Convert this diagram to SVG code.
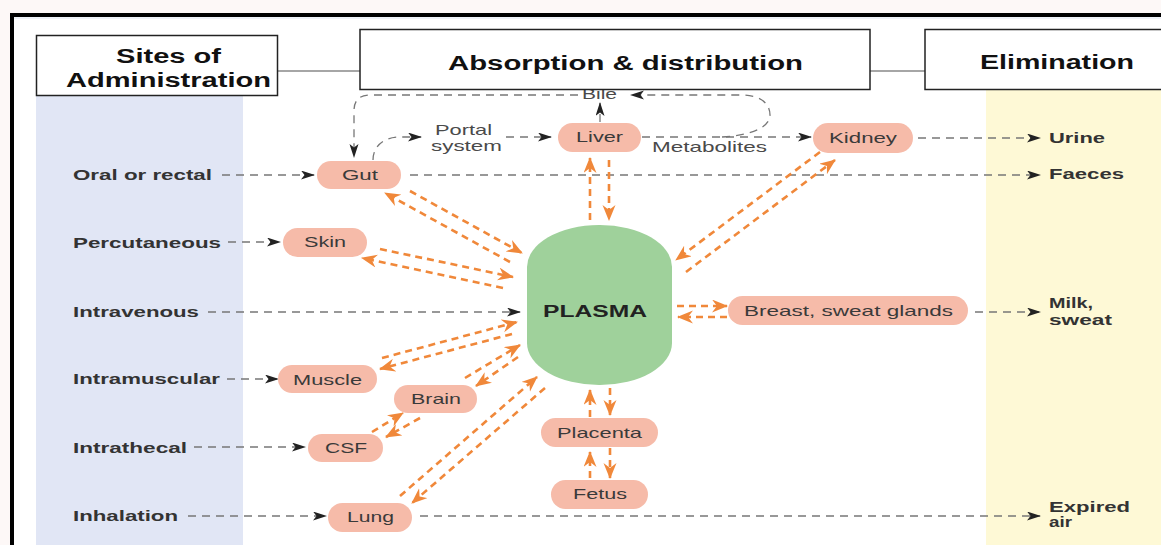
<svg xmlns="http://www.w3.org/2000/svg" width="1161" height="545" viewBox="0 0 1161 545">
<defs>
<marker id="ga" markerUnits="userSpaceOnUse" markerWidth="16" markerHeight="10" refX="13" refY="4.5" orient="auto"><path d="M0,0 L14,4.5 L0,9 L3.5,4.5 z" fill="#222"/></marker>
<marker id="oa" markerUnits="userSpaceOnUse" markerWidth="18" markerHeight="14" refX="15" refY="6.5" orient="auto"><path d="M0,0 L16,6.5 L0,13 L5,6.5 z" fill="#f0883a"/></marker>
</defs>
<style>
.hdr{fill:#fff;stroke:#222;stroke-width:1.5}
.ht{font-family:"Liberation Sans",Arial,sans-serif;font-weight:bold;font-size:20px;fill:#111}
.lt{font-family:"Liberation Sans",Arial,sans-serif;font-weight:bold;font-size:15px;fill:#333}
.nt{font-family:"Liberation Sans",Arial,sans-serif;font-size:15px;fill:#3a3a3a}
.gt{font-family:"Liberation Sans",Arial,sans-serif;font-size:15px;fill:#4a4a4a}
.node{fill:#f6bba9}
.gd{fill:none;stroke:#777;stroke-width:1.3;stroke-dasharray:8 6}
.od{fill:none;stroke:#f0883a;stroke-width:2.6;stroke-dasharray:7 5}
</style>
<rect x="0" y="0" width="1161" height="545" fill="#fdf8f7"/>
<rect x="12" y="15" width="1149" height="530" fill="#fff"/>
<rect x="36" y="96" width="207" height="449" fill="#e1e6f5"/>
<rect x="986" y="89" width="175" height="456" fill="#fef9d6"/>
<line x1="10" y1="15" x2="1161" y2="15" stroke="#000" stroke-width="4"/>
<line x1="12" y1="13" x2="12" y2="545" stroke="#000" stroke-width="4"/>
<line x1="14" y1="18" x2="1161" y2="18" stroke="#dde4f0" stroke-width="1"/>

<text class="gt" x="582" y="99" textLength="35" lengthAdjust="spacingAndGlyphs">Bile</text>

<g id="headers">
<line x1="278" y1="71" x2="360" y2="71" stroke="#888" stroke-width="1.5"/>
<line x1="870" y1="71" x2="925" y2="71" stroke="#888" stroke-width="1.5"/>
<g id="hdr-sites"><rect class="hdr" x="36.5" y="35.5" width="241" height="60"/>
<text class="ht" x="116" y="63" textLength="105" lengthAdjust="spacingAndGlyphs">Sites of</text>
<text class="ht" x="66" y="87" textLength="205" lengthAdjust="spacingAndGlyphs">Administration</text></g>
<g id="hdr-abs"><rect class="hdr" x="360" y="29.5" width="510" height="60"/>
<text class="ht" x="448" y="70" textLength="355" lengthAdjust="spacingAndGlyphs">Absorption &amp; distribution</text></g>
<g id="hdr-elim"><rect class="hdr" x="925" y="29.5" width="240" height="60"/>
<text class="ht" x="980" y="69" textLength="154" lengthAdjust="spacingAndGlyphs">Elimination</text></g>
</g>

<g id="connectors">
<line class="gd" x1="222" y1="175" x2="314" y2="175" marker-end="url(#ga)"/>
<line class="gd" x1="228" y1="242" x2="280" y2="242" marker-end="url(#ga)"/>
<line class="gd" x1="208" y1="312" x2="520" y2="312" marker-end="url(#ga)"/>
<line class="gd" x1="227" y1="379" x2="278" y2="379" marker-end="url(#ga)"/>
<line class="gd" x1="194" y1="447" x2="305" y2="447" marker-end="url(#ga)"/>
<line class="gd" x1="188" y1="516" x2="326" y2="516" marker-end="url(#ga)"/>
<line class="gd" x1="918" y1="138" x2="1040" y2="138" marker-end="url(#ga)"/>
<line class="gd" x1="410" y1="175" x2="1040" y2="175" marker-end="url(#ga)"/>
<line class="gd" x1="975" y1="312" x2="1040" y2="312" marker-end="url(#ga)"/>
<line class="gd" x1="420" y1="516" x2="1040" y2="516" marker-end="url(#ga)"/>
<path class="gd" d="M373 160 C373 146 384 137 400 137 L421 137" marker-end="url(#ga)"/>
<line class="gd" x1="506" y1="137" x2="551" y2="137" marker-end="url(#ga)"/>
<line class="gd" x1="642" y1="137" x2="811" y2="137" marker-end="url(#ga)"/>
<line class="gd" x1="600" y1="122" x2="600" y2="103" marker-end="url(#ga)"/>
<path class="gd" d="M722 137 C755 135 770 126 770 115 C770 102 758 95 742 95 L631 95" marker-end="url(#ga)"/>
<path class="gd" d="M578 95 L370 95 Q354 95 354 111 L354 157" marker-end="url(#ga)"/>
<line class="od" x1="410" y1="191" x2="522" y2="253" marker-end="url(#oa)"/>
<line class="od" x1="510" y1="262" x2="385" y2="193" marker-end="url(#oa)"/>
<line class="od" x1="380" y1="249" x2="513" y2="277" marker-end="url(#oa)"/>
<line class="od" x1="503" y1="288" x2="362" y2="258" marker-end="url(#oa)"/>
<line class="od" x1="590" y1="220" x2="590" y2="158" marker-end="url(#oa)"/>
<line class="od" x1="609" y1="160" x2="609" y2="220" marker-end="url(#oa)"/>
<line class="od" x1="820" y1="152" x2="676" y2="260" marker-end="url(#oa)"/>
<line class="od" x1="686" y1="272" x2="835" y2="160" marker-end="url(#oa)"/>
<line class="od" x1="677" y1="306" x2="727" y2="306" marker-end="url(#oa)"/>
<line class="od" x1="727" y1="317" x2="678" y2="317" marker-end="url(#oa)"/>
<line class="od" x1="382" y1="358" x2="517" y2="322" marker-end="url(#oa)"/>
<line class="od" x1="512" y1="334" x2="380" y2="369" marker-end="url(#oa)"/>
<line class="od" x1="465" y1="378" x2="520" y2="345" marker-end="url(#oa)"/>
<line class="od" x1="518" y1="357" x2="476" y2="386" marker-end="url(#oa)"/>
<line class="od" x1="372" y1="432" x2="403" y2="413" marker-end="url(#oa)"/>
<line class="od" x1="420" y1="418" x2="386" y2="437" marker-end="url(#oa)"/>
<line class="od" x1="400" y1="496" x2="537" y2="377" marker-end="url(#oa)"/>
<line class="od" x1="545" y1="388" x2="412" y2="503" marker-end="url(#oa)"/>
<line class="od" x1="590" y1="417" x2="590" y2="390" marker-end="url(#oa)"/>
<line class="od" x1="610" y1="388" x2="610" y2="415" marker-end="url(#oa)"/>
<line class="od" x1="590" y1="478" x2="590" y2="452" marker-end="url(#oa)"/>
<line class="od" x1="610" y1="448" x2="610" y2="478" marker-end="url(#oa)"/>
</g>

<g id="labels-left">
<text class="lt" x="73" y="180" textLength="139" lengthAdjust="spacingAndGlyphs">Oral or rectal</text>
<text class="lt" x="73" y="248" textLength="148" lengthAdjust="spacingAndGlyphs">Percutaneous</text>
<text class="lt" x="73" y="317" textLength="126" lengthAdjust="spacingAndGlyphs">Intravenous</text>
<text class="lt" x="73" y="384" textLength="147" lengthAdjust="spacingAndGlyphs">Intramuscular</text>
<text class="lt" x="73" y="453" textLength="114" lengthAdjust="spacingAndGlyphs">Intrathecal</text>
<text class="lt" x="73" y="521" textLength="105" lengthAdjust="spacingAndGlyphs">Inhalation</text>
</g>
<g id="labels-right">
<text class="lt" x="1049" y="143" textLength="56" lengthAdjust="spacingAndGlyphs">Urine</text>
<text class="lt" x="1049" y="179" textLength="75" lengthAdjust="spacingAndGlyphs">Faeces</text>
<text class="lt" x="1049" y="308" textLength="44" lengthAdjust="spacingAndGlyphs">Milk,</text>
<text class="lt" x="1049" y="325" textLength="63" lengthAdjust="spacingAndGlyphs">sweat</text>
<text class="lt" x="1049" y="512" textLength="81" lengthAdjust="spacingAndGlyphs">Expired</text>
<text class="lt" x="1049" y="527" textLength="23" lengthAdjust="spacingAndGlyphs">air</text>
</g>
<g id="labels-mid">
<text class="gt" x="435" y="135" textLength="57" lengthAdjust="spacingAndGlyphs">Portal</text>
<text class="gt" x="431" y="151" textLength="71" lengthAdjust="spacingAndGlyphs">system</text>
<text class="gt" x="652" y="152" textLength="115" lengthAdjust="spacingAndGlyphs">Metabolites</text>
</g>

<g id="plasma"><rect x="527" y="225" width="145" height="160" rx="72" ry="42" fill="#9fd19b"/>
<text x="543" y="317" textLength="104" lengthAdjust="spacingAndGlyphs" style="font-family:'Liberation Sans',Arial,sans-serif;font-weight:bold;font-size:16px;fill:#222">PLASMA</text></g>
<g id="gut"><rect class="node" x="317" y="161" width="84" height="28" rx="14"/><text class="nt" x="342" y="180" textLength="36" lengthAdjust="spacingAndGlyphs">Gut</text></g>
<g id="skin"><rect class="node" x="283" y="228" width="84" height="29" rx="14.5"/><text class="nt" x="304" y="247" textLength="42" lengthAdjust="spacingAndGlyphs">Skin</text></g>
<g id="liver"><rect class="node" x="558" y="123" width="83" height="29" rx="14.5"/><text class="nt" x="576" y="142" textLength="47" lengthAdjust="spacingAndGlyphs">Liver</text></g>
<g id="kidney"><rect class="node" x="813" y="123" width="100" height="30" rx="15"/><text class="nt" x="829" y="143" textLength="68" lengthAdjust="spacingAndGlyphs">Kidney</text></g>
<g id="breast"><rect class="node" x="728" y="296" width="240" height="29" rx="14.5"/><text class="nt" x="744" y="316" textLength="209" lengthAdjust="spacingAndGlyphs">Breast, sweat glands</text></g>
<g id="muscle"><rect class="node" x="278" y="365" width="99" height="28" rx="14"/><text class="nt" x="293" y="385" textLength="69" lengthAdjust="spacingAndGlyphs">Muscle</text></g>
<g id="brain"><rect class="node" x="394" y="385" width="83" height="28" rx="14"/><text class="nt" x="411" y="404" textLength="50" lengthAdjust="spacingAndGlyphs">Brain</text></g>
<g id="csf"><rect class="node" x="308" y="434" width="75" height="28" rx="14"/><text class="nt" x="325" y="453" textLength="42" lengthAdjust="spacingAndGlyphs">CSF</text></g>
<g id="lung"><rect class="node" x="328" y="503" width="84" height="29" rx="14.5"/><text class="nt" x="347" y="522" textLength="47" lengthAdjust="spacingAndGlyphs">Lung</text></g>
<g id="placenta"><rect class="node" x="541" y="418" width="117" height="29" rx="14.5"/><text class="nt" x="557" y="438" textLength="85" lengthAdjust="spacingAndGlyphs">Placenta</text></g>
<g id="fetus"><rect class="node" x="551" y="480" width="97" height="29" rx="14.5"/><text class="nt" x="573" y="499" textLength="54" lengthAdjust="spacingAndGlyphs">Fetus</text></g>
</svg>
